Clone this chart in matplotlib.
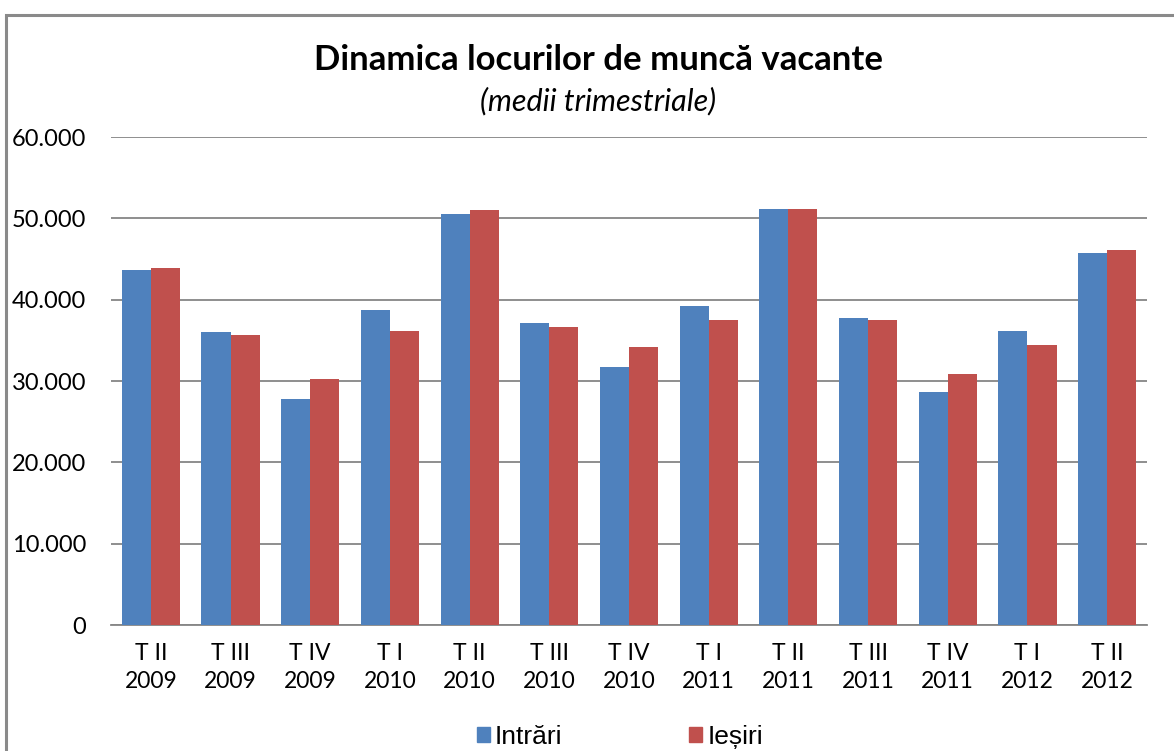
import matplotlib
matplotlib.use("Agg")
import matplotlib.pyplot as plt
import numpy as np
from matplotlib.patches import Rectangle, Patch

quarters = ["T II", "T III", "T IV", "T I", "T II", "T III", "T IV",
            "T I", "T II", "T III", "T IV", "T I", "T II"]
years = ["2009", "2009", "2009", "2010", "2010", "2010", "2010",
         "2011", "2011", "2011", "2011", "2012", "2012"]
intrari = [43600, 36000, 27800, 38700, 50500, 37100, 31700,
           39200, 51100, 37700, 28600, 36100, 45700]
iesiri = [43900, 35600, 30200, 36100, 51000, 36700, 34200,
          37500, 51100, 37500, 30800, 34400, 46100]
yticks = [0, 10000, 20000, 30000, 40000, 50000, 60000]
ytick_labels = ["0", "10.000", "20.000", "30.000", "40.000", "50.000", "60.000"]

blue = "#4F81BD"
red = "#C0504D"
grid = "#868686"

fig = plt.figure(figsize=(11.74, 7.51), dpi=100)
W, H = 1174, 751
ax = fig.add_axes([111 / W, (H - 625) / H, (1147 - 111) / W, (625 - 137) / H])

x = np.arange(len(quarters))
bw = 0.365
ax.bar(x - bw / 2, intrari, width=bw, color=blue, zorder=3)
ax.bar(x + bw / 2, iesiri, width=bw, color=red, zorder=3)

ax.set_xlim(-0.5, len(quarters) - 0.5)
ax.set_ylim(0, 60000)
ax.set_yticks(yticks)
ax.set_yticklabels(ytick_labels, fontfamily="Lato", fontsize=17)
ax.set_xticks(x)
ax.set_xticklabels([f"{q}\n{y}" for q, y in zip(quarters, years)],
                   fontfamily="Lato", fontsize=16.5, linespacing=1.4)
ax.tick_params(axis="y", length=0, pad=18)
ax.tick_params(axis="x", length=0, pad=13)
ax.yaxis.grid(True, color=grid, linewidth=1.3, zorder=0)
for s in ["top", "right", "left"]:
    ax.spines[s].set_visible(False)
ax.spines["bottom"].set_color(grid)
ax.spines["bottom"].set_linewidth(1.3)
ax.set_axisbelow(True)

fig.text(599 / W, 1 - 60 / H, "Dinamica locurilor de muncă vacante",
         ha="center", va="center", fontfamily="Lato", fontweight="bold", fontsize=25)
fig.text(598 / W, 1 - 101 / H, "(medii trimestriale)",
         ha="center", va="center", fontfamily="Lato", fontstyle="italic", fontsize=22)

handles = [Patch(color=blue, label="Intrări"), Patch(color=red, label="Ieșiri")]
leg = fig.legend(handles=handles, loc="center", bbox_to_anchor=(620 / W, 1 - 737 / H),
                 ncol=2, frameon=False, prop={"family": "Liberation Sans", "size": 19},
                 handlelength=0.5, handleheight=0.5, handletextpad=0.2,
                 columnspacing=4.8)

# outer chart border
fig.patches.append(Rectangle((6 / W, -0.02), 1.2, 1 - 15 / H + 0.02,
                             transform=fig.transFigure, fill=False,
                             edgecolor="#8A8A8A", linewidth=2.2))

fig.savefig("out.png", dpi=100)
